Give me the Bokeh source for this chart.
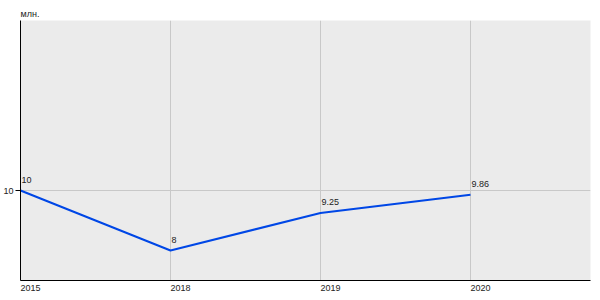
from bokeh.plotting import figure
from bokeh.models import ColumnDataSource, FixedTicker, Range1d
from bokeh.core.properties import value
from bokeh.embed import file_html
from bokeh.resources import INLINE

years = ["2015", "2018", "2019", "2020"]
values = [10, 8, 9.25, 9.86]
value_labels = ["10", "8", "9.25", "9.86"]
y_ticks = [10]
unit = "млн."

idx = list(range(len(years)))
src = ColumnDataSource(dict(x=idx, y=values, t=value_labels))

FONT = "Liberation Sans"
FS = "9px"

p = figure(width=600, height=300, output_backend="svg", toolbar_location=None,
           x_range=Range1d(0, 3.8), y_range=Range1d(7, 15.67),
           min_border_left=20, min_border_right=10, min_border_top=20, min_border_bottom=20)
p.background_fill_color = "#ebebeb"
p.border_fill_color = "white"
p.outline_line_color = None

p.title.text = unit
p.title.text_font = FONT
p.title.text_font_size = FS
p.title.text_font_style = "normal"
p.title.text_color = "#222222"
p.title.align = "left"
p.title.standoff = 4

# x axis: labels left-aligned at grid positions
lab_shift = 0.066
xt = [i + lab_shift for i in idx]
p.xaxis.ticker = FixedTicker(ticks=xt)
p.xaxis.major_label_overrides = {t: years[i] for i, t in enumerate(xt)}
p.xgrid.ticker = FixedTicker(ticks=idx)
p.xaxis.major_tick_out = 0
p.xaxis.major_tick_in = 0
p.xaxis.minor_tick_out = 0
p.xaxis.minor_tick_in = 0
p.xaxis.major_label_standoff = 4
p.xaxis.axis_line_color = "black"

p.yaxis.ticker = FixedTicker(ticks=y_ticks)
p.ygrid.ticker = FixedTicker(ticks=y_ticks)
p.yaxis.major_tick_out = 5
p.yaxis.major_tick_in = 0
p.yaxis.minor_tick_out = 0
p.yaxis.minor_tick_in = 0
p.yaxis.major_label_standoff = 2
p.yaxis.axis_line_color = "black"

for ax in (p.xaxis, p.yaxis):
    ax.major_label_text_font = FONT
    ax.major_label_text_font_size = FS
    ax.major_label_text_color = "#222222"
    ax.major_tick_line_color = "black"

p.grid.grid_line_color = "#c8c8c8"
p.grid.grid_line_width = 1

p.line("x", "y", source=src, line_color="#0047e6", line_width=2)
p.text("x", "y", text="t", source=src, text_font=value(FONT), text_font_size=FS,
       text_color="#222222", text_align="left", text_baseline="alphabetic",
       x_offset=1, y_offset=-11)

open("out.html", "w").write(file_html(p, INLINE))
